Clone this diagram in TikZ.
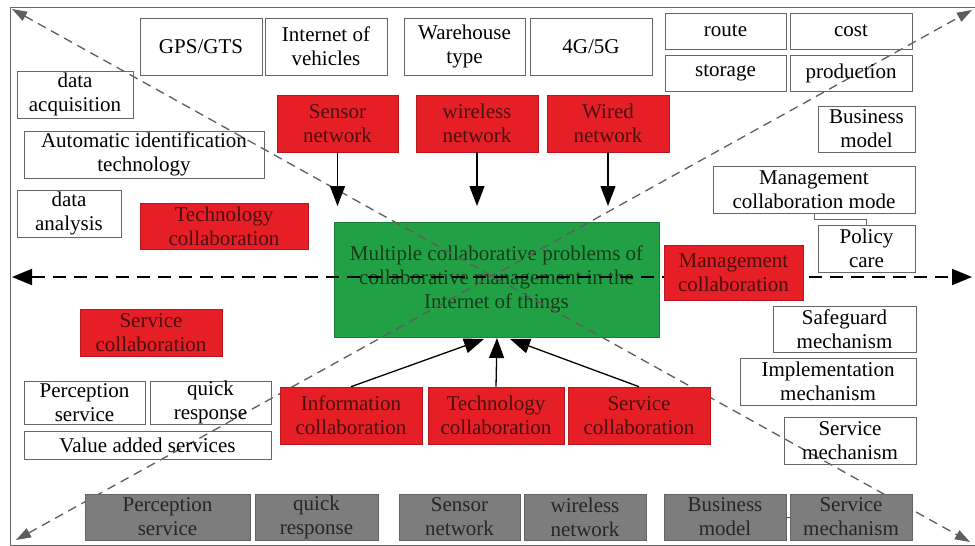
\documentclass[tikz,border=0pt]{standalone}
\usepackage{fontspec}
\setmainfont{Liberation Serif}
\newfontfamily\boxfont{Liberation Serif}
\usetikzlibrary{arrows.meta}
\definecolor{boxred}{HTML}{E61E25}
\definecolor{redtext}{HTML}{4A1010}
\definecolor{boxgreen}{HTML}{22A046}
\definecolor{greentext}{HTML}{143C18}
\definecolor{boxgray}{HTML}{7D7D7D}
\definecolor{edgegray}{HTML}{666666}
\definecolor{dashgray}{HTML}{5E5E5E}
\tikzset{
  base/.style={rectangle, inner sep=0pt, align=center, font=\boxfont\fontsize{21}{24}\selectfont},
  wbox/.style={base, draw=edgegray, line width=0.9pt},
  rbox/.style={base, fill=boxred, draw=boxred!80!black, line width=0.6pt, text=redtext},
  gbox/.style={base, fill=boxgreen, draw=boxgreen!80!black, line width=0.6pt, text=greentext},
  graybox/.style={base, fill=boxgray, draw=boxgray!80!black, line width=0.6pt, text=black!85},
  diag/.style={draw=dashgray, line width=1.3pt, dash pattern=on 9pt off 6pt,
     {Triangle[width=10pt,length=15pt]}-{Triangle[width=10pt,length=15pt]}},
  hline/.style={draw=black, line width=2pt, dash pattern=on 13pt off 8pt,
     {Triangle[width=16pt,length=20pt]}-{Triangle[width=16pt,length=20pt]}},
  darrow/.style={draw=black, line width=1.3pt, -{Triangle[width=15pt,length=20pt]}},
  frame/.style={draw=edgegray, line width=1pt}
}
\begin{document}
\begin{tikzpicture}[x=1pt,y=-1pt]
\useasboundingbox (0,0) rectangle (975,546);
\fill[white] (0,0) rectangle (975,546);
% frame
\coordinate (f1) at (10,7);
\coordinate (f2) at (975,7);
\coordinate (f3) at (10,545);
\coordinate (f4) at (975,545);
\draw[frame] (f2) -- (f1) -- (f3) -- (f4);

% green centre box (under the guide lines)
\node[gbox, minimum width=325pt, minimum height=115pt] (core) at (496.5,279.5)
  {Multiple collaborative problems of\\collaborative management in the\\Internet of things};

% guide lines
\coordinate (d1a) at (12,9);
\coordinate (d1b) at (970,542);
\coordinate (d2a) at (16,540);
\coordinate (d2b) at (972,10);
\coordinate (ha) at (12,277);
\coordinate (hb) at (972,277);
\draw[diag] (d1a) -- (d1b);
\draw[diag] (d2a) -- (d2b);
\draw[hline] (ha) -- (hb);

% top white boxes
\node[wbox, minimum width=122pt, minimum height=57pt] (gps) at (201,46.5) {GPS/GTS};
\node[wbox, minimum width=122pt, minimum height=57pt] (iov) at (326,46.5) {Internet of\\vehicles};
\node[wbox, minimum width=121pt, minimum height=57pt] (wh) at (464.5,46.5) {Warehouse\\type};
\node[wbox, minimum width=122pt, minimum height=57pt] (g45) at (591,46.5) {4G/5G};
\node[wbox, minimum width=121pt, minimum height=36pt] (route) at (725.5,31) {route};
\node[wbox, minimum width=122pt, minimum height=36pt] (cost) at (851,31) {cost};
\node[wbox, minimum width=121pt, minimum height=36pt] (stor) at (725.5,73) {storage};
\node[wbox, minimum width=122pt, minimum height=36pt] (prod) at (851,73) {production};
\node[wbox, minimum width=97pt, minimum height=46pt] (bm) at (866.5,129) {Business\\model};
\node[wbox, minimum width=202pt, minimum height=47pt] (mcm) at (814,189.5) {Management\\collaboration mode};
\node[wbox, minimum width=97pt, minimum height=47pt] (pc) at (866.5,248.5) {Policy\\care};
\draw[draw=edgegray, line width=0.9pt] (mcm.south) -- ++(0,6) -| (pc.north);

% left white boxes
\node[wbox, minimum width=116pt, minimum height=47pt] (dacq) at (75,94.5) {data\\acquisition};
\node[wbox, minimum width=240pt, minimum height=47pt] (ait) at (144,154.5) {Automatic identification\\technology};
\node[wbox, minimum width=104pt, minimum height=47pt] (dan) at (69,213.5) {data\\analysis};

% red boxes top
\node[rbox, minimum width=121pt, minimum height=57pt] (sn) at (337.5,123.5) {Sensor\\network};
\node[rbox, minimum width=122pt, minimum height=57pt] (wn) at (477,123.5) {wireless\\network};
\node[rbox, minimum width=122pt, minimum height=57pt] (wd) at (608,123.5) {Wired\\network};
\coordinate (sne) at (337.5,206);
\coordinate (wne) at (477,206);
\coordinate (wde) at (608,206);
\draw[darrow] (sn.south) -- (sne);
\draw[darrow] (wn.south) -- (wne);
\draw[darrow] (wd.south) -- (wde);

\node[rbox, minimum width=168pt, minimum height=46pt] (tc1) at (224,226) {Technology\\collaboration};
\node[rbox, minimum width=139pt, minimum height=55pt] (mc) at (733.5,272.5) {Management\\collaboration};
\node[rbox, minimum width=142pt, minimum height=47pt] (sc1) at (151,332.5) {Service\\collaboration};

% lower left white boxes
\node[wbox, minimum width=121pt, minimum height=43pt] (ps) at (84.5,402.5) {Perception\\service};
\node[wbox, minimum width=121pt, minimum height=43pt] (qr) at (210.5,402.5) {quick\\response};
\node[wbox, minimum width=247pt, minimum height=28pt] (vas) at (147.5,445) {Value added services};

% lower red boxes
\node[rbox, minimum width=142pt, minimum height=57pt] (ic) at (351,415.5) {Information\\collaboration};
\node[rbox, minimum width=136pt, minimum height=57pt] (tc2) at (496,415.5) {Technology\\collaboration};
\node[rbox, minimum width=142pt, minimum height=57pt] (sc2) at (639,415.5) {Service\\collaboration};
\coordinate (t1) at (484,339);
\coordinate (t2) at (497,338);
\coordinate (t3) at (510,339);
\draw[darrow] (ic.north) -- (t1);
\draw[darrow] (tc2.north) -- (t2);
\draw[darrow] (sc2.north) -- (t3);

% right white boxes
\node[wbox, minimum width=143pt, minimum height=46pt] (sg) at (844.5,329) {Safeguard\\mechanism};
\node[wbox, minimum width=176pt, minimum height=47pt] (imp) at (828,381.5) {Implementation\\mechanism};
\node[wbox, minimum width=132pt, minimum height=47pt] (smw) at (850,440.5) {Service\\mechanism};

% bottom gray boxes
\node[graybox, minimum width=165pt, minimum height=46pt] (gps2) at (167.5,517) {Perception\\service};
\node[graybox, minimum width=123pt, minimum height=46pt] (gqr) at (316.5,517) {quick\\response};
\node[graybox, minimum width=121pt, minimum height=46pt] (gsn) at (459.5,517) {Sensor\\network};
\node[graybox, minimum width=122pt, minimum height=46pt] (gwn) at (585,517) {wireless\\network};
\node[graybox, minimum width=122pt, minimum height=46pt] (gbm) at (725,517) {Business\\model};
\node[graybox, minimum width=122pt, minimum height=46pt] (gsm) at (851,517) {Service\\mechanism};
\draw[draw=black!70, line width=0.8pt] (gbm.east) -- (gsm.west);
\end{tikzpicture}
\end{document}
